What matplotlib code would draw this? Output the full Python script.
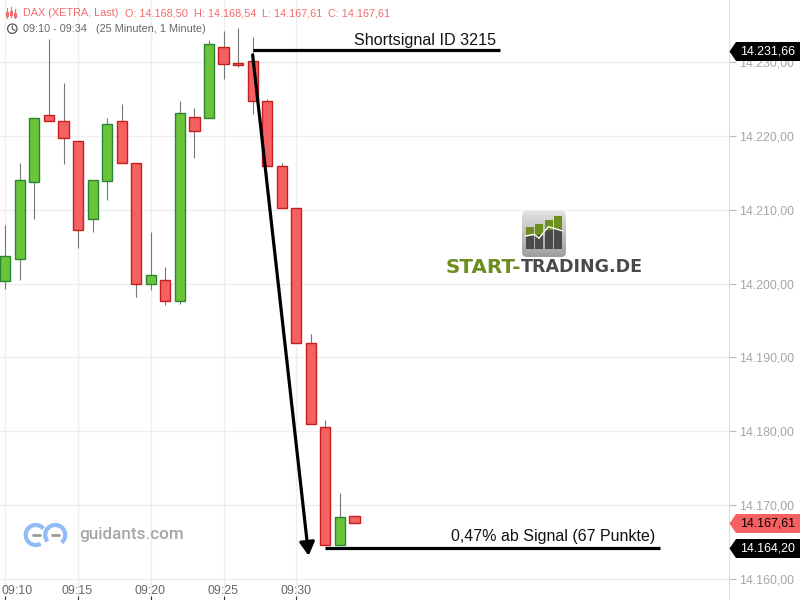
import numpy as np
import matplotlib
matplotlib.use("Agg")
import matplotlib.pyplot as plt
from matplotlib.patches import Polygon, Rectangle, FancyBboxPatch, Arc, Circle

plt.rcParams["font.family"] = ["Liberation Sans", "DejaVu Sans"]

# minute candles 09:10 - 09:34
opens = [14200.4, 14203.4, 14213.8, 14222.9, 14222.0, 14219.4, 14208.8, 14213.9, 14222.0, 14216.3,
         14199.9, 14200.5, 14197.6, 14222.6, 14222.5, 14232.1, 14229.9, 14230.2, 14224.7, 14216.0,
         14210.3, 14191.9, 14180.6, 14164.5, 14168.5]
highs = [14208.0, 14216.4, 14222.4, 14233.1, 14227.2, 14219.4, 14214.1, 14222.4, 14224.4, 14216.3,
         14207.0, 14202.2, 14224.7, 14223.8, 14233.0, 14234.2, 14234.7, 14233.4, 14225.0, 14216.3,
         14210.3, 14193.1, 14181.5, 14171.6, 14168.5]
lows = [14199.2, 14200.5, 14208.7, 14222.1, 14216.2, 14204.8, 14207.0, 14211.4, 14216.3, 14198.2,
        14199.1, 14197.1, 14197.2, 14217.0, 14222.5, 14227.7, 14229.4, 14223.0, 14216.0, 14210.2,
        14191.9, 14181.0, 14164.5, 14164.5, 14167.6]
closes = [14203.7, 14214.1, 14222.4, 14222.1, 14219.8, 14207.2, 14214.1, 14221.7, 14216.3, 14199.9,
          14201.2, 14197.6, 14223.1, 14220.7, 14232.5, 14229.8, 14229.6, 14224.7, 14216.0, 14210.2,
          14191.9, 14181.0, 14164.5, 14168.4, 14167.6]

y_ticks = [14160, 14170, 14180, 14190, 14200, 14210, 14220, 14230]
x_tick_pos = [0, 5, 10, 15, 20]
x_tick_labels = ["09:10", "09:15", "09:20", "09:25", "09:30"]

signal_level = 14231.66
target_level = 14164.20
last_price = 14167.61

GREEN, GREEN_EDGE = "#6cc438", "#2a8636"
RED, RED_EDGE = "#f56060", "#c4201f"
GRID = "#eeeeee"
STEP = 14.55  # px per candle


def de_fmt(v):
    return f"{v:,.2f}".replace(",", "#").replace(".", ",").replace("#", ".")


fig = plt.figure(figsize=(8, 6), dpi=100)
ax = fig.add_axes([0, 0, 729 / 800, 1])
ax.set_xlim(-5.3 / STEP, (729 - 5.3) / STEP)
ax.set_ylim(14157.1, 14238.45)

ax.set_axisbelow(True)
ax.grid(color=GRID, linewidth=1)
for s in ["top", "left", "bottom"]:
    ax.spines[s].set_visible(False)
ax.spines["right"].set_color("#dddddd")

ax.yaxis.tick_right()
ax.set_yticks(y_ticks)
ax.set_yticklabels([de_fmt(v) for v in y_ticks], fontsize=8.9, color="#a6a6a6")
ax.tick_params(axis="y", length=5, color="#bbbbbb", width=0.8, pad=2.3)

ax.set_xticks(x_tick_pos)
ax.set_xticklabels([])
ax.tick_params(axis="x", direction="in", length=3, color="#333333", width=0.8)
for pos, lab in zip(x_tick_pos, x_tick_labels):
    first = pos == x_tick_pos[0]
    ax.annotate(lab, xy=(pos, 0), xycoords=ax.get_xaxis_transform(),
                xytext=(-3.4 if first else -0.7, 9), textcoords="offset pixels",
                ha="left" if first else "center", va="center",
                fontsize=8.9, color="#666666")

# candles
x = np.arange(len(opens))
for i in x:
    up = closes[i] > opens[i]
    ax.vlines(i, lows[i], highs[i], color="#777777", linewidth=0.8, zorder=2)
    ax.bar(i, abs(closes[i] - opens[i]), bottom=min(opens[i], closes[i]), width=0.7,
           color=GREEN if up else RED, edgecolor=GREEN_EDGE if up else RED_EDGE,
           linewidth=1.0, zorder=3)

# signal annotation
ax.plot([17, 34], [signal_level, signal_level], color="black", lw=2.3, zorder=5,
        solid_capstyle="butt")
ax.plot([22, 45], [target_level, target_level], color="black", lw=2.3, zorder=5,
        solid_capstyle="butt")
ax.annotate("", xy=(20.85, 14163.1), xytext=(17, 14231.0), zorder=5,
            arrowprops=dict(arrowstyle="-|>,head_length=0.8,head_width=0.45", color="black",
                            lw=2.3, shrinkA=0, shrinkB=0))
ax.text(424.5 / STEP - 0.364, 14232.0, "Shortsignal ID 3215", ha="center", va="bottom",
        fontsize=11.6, color="#111111", zorder=6)
ax.text(655.5 / STEP - 0.364, 14164.7, "0,47% ab Signal (67 Punkte)", ha="right", va="bottom",
        fontsize=11.5, color="#111111", zorder=6)

# pixel overlay for header, tags and logos
ov = fig.add_axes([0, 0, 1, 1], facecolor="none")
ov.set_xlim(0, 800)
ov.set_ylim(600, 0)
ov.axis("off")

HEAD_RED = "#f46a6a"
for xp, t in [(23, "DAX (XETRA, Last)"), (125, "O: 14.168,50"), (194, "H: 14.168,54"),
              (262, "L: 14.167,61"), (328, "C: 14.167,61")]:
    ov.text(xp, 13, t, color=HEAD_RED, fontsize=7.85, va="center", ha="left")
ov.text(23, 29, "09:10 - 09:34", color="#666666", fontsize=7.85, va="center", ha="left")
ov.text(96, 29, "(25 Minuten, 1 Minute)", color="#666666", fontsize=7.85, va="center", ha="left")

# header icons
for xp, y0, y1 in [(7, 8, 18), (11, 7, 17), (15, 9, 18)]:
    ov.plot([xp, xp], [y0, y1], color=HEAD_RED, lw=0.8)
    ov.add_patch(Rectangle((xp - 1.2, y0 + 4), 2.4, 4, fc="white", ec=HEAD_RED, lw=0.8))
ov.add_patch(Circle((12.3, 28.7), 4.7, fc="none", ec="#555555", lw=0.9))
ov.plot([12.3, 12.3, 15], [25.8, 29, 30.3], color="#555555", lw=0.8)


def price_tag(yc, fc, tc, label):
    ov.add_patch(Polygon([(729.5, yc), (736, yc - 9.5), (800, yc - 9.5), (800, yc + 9.5), (736, yc + 9.5)],
                         closed=True, fc=fc, ec="none", zorder=7))
    ov.text(740, yc, label, color=tc, fontsize=8.9, va="center", ha="left", zorder=8)


price_tag(51.5, "black", "white", de_fmt(signal_level))
price_tag(523.5, "#f56060", "black", de_fmt(last_price))
price_tag(548.5, "black", "white", de_fmt(target_level))

# start-trading logo
grad = np.linspace(0.88, 0.62, 64).reshape(-1, 1)
im = ov.imshow(grad, extent=(522, 566, 257, 211), cmap="gray", vmin=0, vmax=1,
               aspect="auto", zorder=2)
box = FancyBboxPatch((525, 214), 38, 40, boxstyle="round,pad=3,rounding_size=5",
                     fc="none", ec="none", transform=ov.transData)
ov.add_patch(box)
im.set_clip_path(box)
ov.set_xlim(0, 800)
ov.set_ylim(600, 0)
for xl, top, mid in [(525.7, 227.3, 236), (535.3, 224, 235), (544.7, 220, 230), (554, 216, 229)]:
    ov.add_patch(Rectangle((xl, top), 8, mid - top, fc="#6b8e1e", ec="none", zorder=3))
    ov.add_patch(Rectangle((xl, mid), 8, 249 - mid, fc="#4a4a4a", ec="none", zorder=3))
ov.plot([525.7, 534.3, 539, 548.3, 562], [236, 234.3, 238.3, 226.7, 230.7],
        color="white", lw=1.0, zorder=4)
ov.text(445.5, 267.5, "START-", color="#6b8e1e", fontsize=14.3, fontweight="bold",
        family="DejaVu Sans", va="center", ha="left")
ov.text(520.5, 267.5, "TRADING.DE", color="#4a4a4a", fontsize=12.6, fontweight="bold",
        family="DejaVu Sans", va="center", ha="left")

# guidants logo
BLUE = "#8fbcf7"
ov.add_patch(Arc((35.7, 535), 20, 20, theta1=60, theta2=320, color=BLUE, lw=3))
ov.add_patch(Arc((55.2, 535), 20, 20, theta1=-220, theta2=50, color=BLUE, lw=3))
ov.plot([33, 40], [535, 535], color="#9a9a9a", lw=2, solid_capstyle="round")
ov.plot([52, 59], [535, 535], color="#9a9a9a", lw=2, solid_capstyle="round")
ov.text(79, 535, "guidants.com", color="#a6a6a6", fontsize=12.3, fontweight="medium",
        family="Roboto", va="center", ha="left")

fig.savefig("out.png", dpi=100)
plt.close(fig)
